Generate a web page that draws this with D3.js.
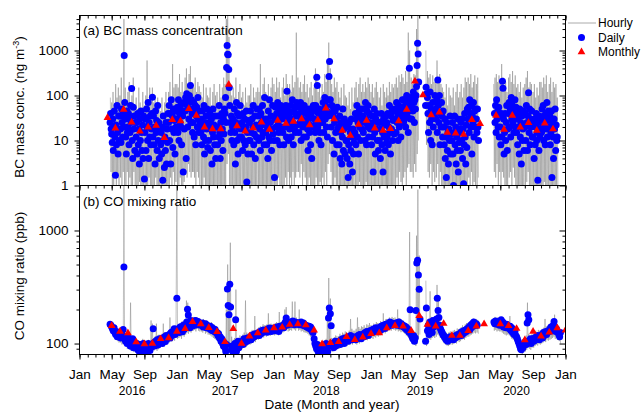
<!DOCTYPE html>
<html><head><meta charset="utf-8">
<script src="https://cdn.jsdelivr.net/npm/d3@7"></script>
<style>
body{margin:0;background:#fff}
svg text{font-family:"Liberation Sans",Arial,sans-serif}
</style></head><body>
<svg id="c" width="641" height="414"></svg>
<script>
const _ = null;

// ---------- BC daily (ng m-3): 15 values per month, days 1,3,5,...,29 ----------
const bcDaily2016 = [ // Apr..Dec 2016
_,_,_,_,_,_,_,_,_,_,_,_,25,40,18,
14,9,30,6,20,45,12,1.7,22,8,60,15,5,35,10,
35,18,9,50,25,12,40,20,775,70,30,12,5,45,15,
20,40,8,30,15,60,25,144,10,4,55,18,35,6,25,
12,25,5,40,8,18,3,30,10,45,15,6,22,4,35,
1.4,15,30,6,50,20,10,70,4,25,12,35,8,18,40,
92,12,35,8,20,3,45,15,28,6,60,10,25,4,18,
8,15,5,20,1.3,35,10,2.5,12,6,25,3,18,9,40,
25,60,10,40,3,80,18,35,7,50,15,28,5,45,20];
const bcDaily2017 = [
30,55,15,80,10,40,25,60,20,8,45,35,2,70,18,
45,90,4,110,60,20,70,30,100,50,167,25,80,40,15,
50,25,70,12,40,60,8,35,55,20,90,30,15,45,25,
15,30,8,45,20,12,60,5,25,10,35,18,50,7,22,
10,25,40,6,18,30,3,15,50,12,22,8,35,4,20,
20,8,35,12,60,15,4,25,10,40,18,6,30,14,50,
40,90,25,420,1300,830,800,380,150,60,25,15,35,10,20,
30,8,50,15,3,25,70,10,40,5,20,35,12,60,18,
12,25,6,40,10,18,30,8,20,45,1.2,15,5,28,10,
25,10,45,15,5,30,20,60,8,14,35,4,22,12,50,
20,35,10,50,18,6,40,25,12,60,15,30,8,90,22,
15,30,8,20,4,45,12,80,10,25,35,6,18,60,14];
const bcDaily2018 = [
10,1.5,30,55,20,40,10,70,25,15,45,8,35,60,20,
30,15,50,8,40,20,35,60,12,125,25,45,10,30,18,
40,20,60,12,30,80,25,8,45,18,55,15,35,70,22,
35,55,15,40,25,70,10,30,50,20,45,12,60,28,40,
25,12,40,18,6,30,50,15,22,8,35,4,45,20,60,
30,45,15,60,25,255,167,20,40,10,50,15,35,8,25,
40,25,70,15,50,90,30,60,20,45,12,35,80,265,570,
80,40,20,60,10,35,50,5,25,45,15,30,8,55,18,
20,8,35,4,15,25,3,12,50,6,18,30,5,22,10,
10,4,20,1.5,8,25,3,15,6,30,12,2,18,5,9,
15,40,8,30,60,12,25,5,45,20,35,10,50,18,28,
35,15,50,25,10,70,30,8,45,20,60,12,40,25,18];
const bcDaily2019 = [
20,8,35,12,2,25,50,15,5,30,18,40,10,25,6,
10,25,4,18,40,8,15,2,30,12,22,6,35,14,9,
25,12,40,8,20,60,15,5,35,18,50,10,28,45,14,
30,50,15,70,25,40,10,60,20,45,35,12,55,25,80,
40,25,80,30,60,20,50,100,35,70,15,45,405,90,30,
60,30,90,45,120,70,25,80,50,100,158,463,1450,840,200,
_,_,_,_,_,_,_,_,_,_,_,_,60,153,109,
90,40,15,60,25,120,10,50,30,8,70,20,45,35,100,
50,30,80,15,222,60,25,100,8,40,20,70,35,12,45,
20,8,30,4,12,1.5,25,6,15,3,18,10,35,5,14,
10,25,5,1,15,35,8,20,3,12,6,30,2,18,9,
15,6,25,10,30,4,18,1.1,8,40,12,3,22,7,50];
const bcDaily2020 = [
30,55,15,80,40,20,60,5,35,25,70,12,45,20,50,
30,15,50,20,10,_,_,_,_,_,_,_,_,_,_,
_,_,_,_,_,_,_,_,_,_,_,_,_,_,_,
_,_,_,_,40,25,60,15,80,30,45,20,55,12,35,
20,8,40,12,208,145,30,5,15,40,10,25,60,6,18,
40,70,20,50,12,90,30,60,25,45,15,35,80,20,55,
15,30,8,40,20,5,50,12,25,3,35,10,18,45,6,
20,40,10,60,25,6,35,115,15,50,8,30,20,45,12,
12,25,4,30,8,20,40,10,15,1.3,25,6,35,12,18,
30,15,50,20,60,10,35,25,8,40,18,70,12,28,45,
20,35,8,15,45,1.5,25,12,4,30,18,50,6,22,10,
12,_,_,_,_,_,_,_,_,_,_,_,_,_,_];

// ---------- BC hourly extremes: 6 slots per month (days 1,6,11,16,21,26) ----------
const bcHourlyHi2016 = [_,_,_,_,_,90, 70,120,60,180,90,150, 100,250,80,5000,150,70, 120,200,70,100,250,60, 90,50,150,70,45,120, 60,100,600,70,150,90, 150,70,100,50,90,60, 45,90,35,70,120,50, 120,200,90,500,150,180];
const bcHourlyLo2016 = [_,_,_,_,_,2, 1,0.8,2,0.5,1.5,1, 1.5,1,2,1,0.7,2, 0.8,1.5,1,0.6,2,1, 1,0.5,1.2,0.8,1,0.6, 0.5,1,0.8,1.5,0.7,1, 1,0.6,1.5,0.8,1,0.5, 0.5,0.7,0.4,0.6,1,0.5, 1,1.5,0.8,2,1,1.2];
const bcHourlyHi2017 = [180,150,300,120,200,100, 250,400,180,300,450,200, 180,150,250,120,200,160, 120,90,180,70,150,100, 90,150,60,120,180,100, 120,70,180,90,150,250, 180,5000,6000,2000,150,100, 150,90,250,70,120,180, 90,120,60,150,70,100, 100,180,70,150,90,120, 150,120,500,100,180,250, 120,90,180,70,150,250];
const bcHourlyLo2017 = [1,0.8,1.5,0.5,1,1.2, 2,1.5,3,2,1.5,2, 2,1.5,1,2,1.5,1, 1,0.8,1.5,0.6,1,0.7, 0.6,1,0.5,0.8,0.5,1, 0.8,0.6,1,0.5,1,0.7, 1,3,5,1,0.8,1, 0.6,0.8,0.5,1,0.7,0.5, 0.5,0.7,0.4,0.6,0.5,0.8, 0.8,0.5,1,0.6,0.7,0.5, 0.7,1,0.6,0.8,1,0.7, 0.5,0.7,0.6,0.4,0.8,0.5];
const bcHourlyHi2018 = [180,120,250,150,200,90, 150,250,100,300,180,120, 180,120,280,150,200,2500, 250,150,200,120,180,280, 120,180,90,150,200,100, 150,400,250,120,180,90, 180,120,300,200,500,1500, 400,180,120,250,150,200, 120,90,150,60,180,100, 90,60,120,50,150,70, 150,200,90,180,250,120, 180,120,200,150,250,180];
const bcHourlyLo2018 = [0.5,1,0.7,1.5,0.8,1, 1,0.7,1.5,1,2,0.8, 1.5,1,2,1,1.5,2, 2,1.5,3,1,2,1.5, 1,0.8,1.5,0.6,1,0.8, 1,1.5,0.8,1,1.2,0.7, 1.5,1,2,1,3,5, 2,1,0.8,1.5,0.7,1, 0.6,0.5,0.8,0.4,1,0.5, 0.4,0.5,0.6,0.4,0.7,0.5, 0.7,1,0.5,1.2,0.8,1, 1,0.6,1.2,0.8,1,0.7];
const bcHourlyHi2019 = [120,180,90,150,200,120, 90,150,60,180,120,90, 150,100,200,120,180,150, 180,250,150,280,200,300, 250,180,350,200,2500,1000, 250,180,300,280,3000,6000, _,_,_,_,_,1000, 350,250,300,180,280,200, 250,600,200,300,180,150, 120,90,180,60,150,100, 90,150,60,120,180,90, 120,180,90,150,250,200];
const bcHourlyLo2019 = [0.6,0.8,0.5,1,0.7,0.6, 0.5,0.7,0.4,0.8,0.5,0.6, 0.8,0.6,1,0.5,0.9,0.7, 1,1.5,0.8,2,1.2,1, 1.5,2,1,2.5,3,2, 2,1.5,3,2,5,10, _,_,_,_,_,8, 2,1.5,3,1,2,1.2, 1.5,3,1,2,1,0.8, 0.5,0.4,0.7,0.3,0.6,0.4, 0.4,0.5,0.3,0.6,0.4,0.5, 0.5,0.7,0.3,0.8,0.5,1];
const bcHourlyHi2020 = [250,180,300,150,200,280, 180,250,_,_,_,_, _,_,_,_,_,_, _,180,250,300,200,280, 180,500,250,150,200,120, 250,300,200,350,180,280, 150,180,120,200,90,150, 180,250,350,150,200,180, 120,180,90,150,100,200, 200,150,250,180,280,120, 180,250,120,200,150,180, 90,_,_,_,_,_];
const bcHourlyLo2020 = [1.5,1,2,0.8,1.2,1, 1,1.5,_,_,_,_, _,_,_,_,_,_, _,2,1.5,3,1,2, 1,2,1.5,0.8,1,0.7, 1.5,2,1,2.5,1.5,1, 0.7,1,0.5,0.8,0.6,0.7, 0.8,1.2,2,0.7,1,0.8, 0.5,0.6,0.4,0.7,0.5,0.8, 1,0.8,1.2,0.7,1,0.8, 0.8,1,0.5,0.9,0.6,0.8, 1,_,_,_,_,_];

// ---------- BC monthly means, Apr 2016 .. Nov 2020 (plotted mid-month) ----------
const bcMonthly = [
32,18.8,49,25.5,16,19.8,21.5,11.5,29,
27,51,36,19.8,18,18,175,21,16,19,25.5,17.5,
27.8,24,26.5,30,22,28.5,52,30,16.7,12.9,22.7,27.8,
18.8,16.7,18.2,27,49,208,102,37,42.6,15,14.5,13.6,
28.8,23.5,_,36,17.5,36,19.8,24.7,16.7,24.3,17.9];

// ---------- CO daily (ppb): 10 values per month, days 1,4,...,28 ----------
const coDaily2016 = [ // Apr..Dec 2016
_,_,_,_,_,_,_,_,148,145,
140,135,130,138,125,120,128,115,122,118,
120,112,125,118,133,476,110,105,115,100,
108,112,100,95,105,98,110,92,102,96,
95,100,88,92,85,98,90,83,95,100,
92,88,97,84,95,100,90,87,96,93,
98,135,102,95,105,100,108,97,103,110,
105,110,100,112,108,115,104,118,110,113,
115,120,112,125,118,128,122,135,120,126];
const coDaily2017 = [
252,128,135,125,140,130,138,127,145,133,
140,148,155,201,179,152,138,160,150,143,
155,150,158,145,160,152,148,157,150,146,
150,145,152,140,148,143,150,138,145,140,
140,135,142,132,138,130,135,128,133,125,
125,118,122,112,115,105,110,100,95,102,
92,85,98,304,217,180,334,210,88,95,
82,90,100,162,85,95,105,92,100,98,
100,105,98,110,102,108,104,112,106,110,
110,115,108,118,112,120,115,122,117,120,
120,125,118,128,122,130,125,132,127,130,
128,132,126,135,130,137,132,128,135,133];
const coDaily2018 = [
135,130,138,132,140,135,128,142,136,140,
140,145,138,150,155,168,145,152,148,150,
150,155,148,152,158,150,147,155,152,149,
150,153,147,150,155,148,145,152,146,143,
145,140,143,138,142,135,140,132,128,125,
110,100,95,90,98,85,92,88,95,83,
90,85,95,82,88,100,92,85,168,206,
183,144,95,100,92,98,105,95,100,103,
100,105,98,108,103,110,105,100,112,108,
108,112,105,115,110,118,112,108,115,113,
112,108,115,110,118,113,120,115,110,117,
118,122,115,125,120,128,123,118,126,130];
const coDaily2019 = [
130,125,133,128,135,130,138,132,127,135,
135,140,132,143,138,145,140,136,148,142,
145,150,142,148,155,147,152,145,150,148,
150,147,153,145,150,155,148,143,150,146,
145,140,143,136,140,132,135,128,125,199,
120,115,110,118,105,112,196,517,546,403,
302,165,_,_,_,_,_,_,105,206,
130,145,120,155,135,150,125,160,140,145,
150,165,252,196,170,145,135,130,125,120,
118,115,112,108,110,105,112,108,115,110,
110,113,108,115,112,118,114,120,116,118,
120,125,118,128,122,130,125,132,128,135];
const coDaily2020 = [
135,140,132,145,138,150,142,155,148,145,
150,145,_,_,_,_,_,_,_,_,
_,_,_,_,_,_,_,_,_,_,
_,_,155,150,158,152,148,155,150,145,
150,162,145,155,140,150,145,138,148,142,
140,135,142,130,138,125,132,120,128,118,
115,110,105,100,95,90,88,95,92,100,
100,105,98,152,180,162,105,110,100,108,
110,105,112,108,115,110,118,112,108,115,
115,120,112,125,118,122,128,120,125,130,
128,135,140,130,138,145,157,140,128,135,
130,125,120,115,125,_,_,_,_,_];

// ---------- CO hourly extremes: 6 slots per month ----------
const coHourlyHi2016 = [_,_,_,_,_,158, 152,145,140,138,132,128, 128,122,132,2600,120,112, 115,110,230,108,112,105, 103,108,100,105,100,110, 100,105,100,108,103,160, 150,112,115,150,118,120, 118,122,150,125,122,128, 128,170,126,140,132,145];
const coHourlyLo2016 = [_,_,_,_,_,135, 125,118,112,110,105,102, 102,98,100,98,95,90, 90,88,86,88,84,86, 82,80,83,78,81,84, 80,82,79,84,81,85, 88,87,90,86,89,92, 95,98,94,100,97,102, 102,108,104,110,106,112];
const coHourlyHi2017 = [2600,145,152,142,158,150, 160,240,230,200,170,165, 170,172,165,170,168,162, 162,158,165,155,160,155, 155,150,155,145,148,140, 138,130,132,122,118,112, 108,200,500,350,780,115, 108,112,300,110,112,118, 115,120,125,240,125,122, 125,128,132,130,175,132, 135,140,142,140,148,145, 145,148,185,146,150,148];
const coHourlyLo2017 = [110,112,115,110,118,115, 120,125,122,128,125,130, 130,132,128,135,130,128, 128,125,130,122,125,120, 120,118,115,112,110,108, 105,100,95,90,85,82, 80,78,90,85,78,80, 78,80,82,85,84,88, 90,92,95,93,96,98, 98,100,102,105,103,108, 108,110,112,115,113,118, 115,118,120,117,122,120];
const coHourlyHi2018 = [148,152,155,150,190,155, 158,162,200,210,165,165, 165,162,235,168,235,170, 165,200,162,165,160,162, 158,155,150,152,145,140, 122,112,108,105,104,100, 100,105,100,110,200,380, 250,112,110,114,118,116, 116,122,118,125,122,128, 126,124,130,165,135,130, 130,135,170,140,135,142, 140,145,138,148,145,152];
const coHourlyLo2018 = [118,120,122,118,125,122, 125,128,130,135,128,130, 132,130,135,133,130,135, 130,132,128,130,126,125, 125,122,118,115,112,108, 92,88,82,80,78,80, 78,80,78,82,85,90, 88,85,87,90,88,92, 90,92,95,93,96,95, 95,98,97,100,98,102, 100,98,102,100,105,103, 105,108,110,107,112,110];
const coHourlyHi2019 = [146,142,150,146,155,152, 152,158,154,185,158,165, 165,162,170,165,172,168, 170,165,200,168,165,162, 160,155,152,148,145,970, 135,130,128,125,900,2300, 600,_,_,_,_,360, 158,165,290,172,165,160, 172,330,250,175,155,145, 132,128,125,122,126,128, 126,130,132,128,136,134, 136,140,145,140,148,152];
const coHourlyLo2019 = [112,110,115,113,118,115, 118,120,122,125,123,128, 128,130,132,130,135,132, 130,132,128,130,126,128, 125,122,118,115,112,110, 105,100,98,95,100,110, 120,_,_,_,_,95, 105,110,108,112,115,112, 115,120,118,112,108,105, 100,98,96,95,97,98, 98,100,102,100,105,103, 105,108,110,108,112,115];
const coHourlyHi2020 = [150,155,158,162,166,162, 165,162,_,_,_,_, _,_,_,_,_,_, _,168,172,166,170,165, 168,172,165,160,155,158, 155,175,146,142,138,130, 125,120,112,108,105,110, 112,118,230,122,115,120, 122,126,130,126,132,130, 130,135,138,165,142,140, 145,150,155,160,180,156, 142,138,134,_,_,_];
const coHourlyLo2020 = [115,118,120,122,125,123, 125,122,_,_,_,_, _,_,_,_,_,_, _,130,132,128,130,128, 128,125,122,120,118,120, 118,115,110,108,105,100, 95,90,86,82,80,84, 85,88,95,90,88,92, 92,95,98,96,100,98, 100,102,105,103,108,106, 108,110,112,115,110,112, 108,105,100,_,_,_];

// ---------- CO monthly means, plotted at month boundaries May 2016 .. Jan 2021 ----------
const coMonthly = [
144,128,124,103,99.3,100,110,112,
128,135,156,149,138,127,103.5,135,100,116,124,131,
137,139,147,149,146,131,99.3,101.5,103.5,115,108,113.6,
122,124,137,144,142,130,176,147,142,150,117.5,117.5,
130,142,149,_,149,144,135.5,107.7,128,116,125.6,137,
131];

// ---------- axis text ----------
const yearLabels = ["2016","2017","2018","2019","2020"];
const yearLabelDates = ["2016-07-17","2017-07-01","2018-07-17","2019-07-04","2020-07-01"];

// ================= drawing =================
const L=79.5, R=565.5, T1=15.5, B1=185.5, B2=354.5;
const FONT = 13.5;
const svg = d3.select("#c");
const x = d3.scaleUtc().domain([new Date(Date.UTC(2016,0,1)), new Date(Date.UTC(2021,0,1))]).range([L,R]);
const yA = d3.scaleLog().domain([1,6000]).range([B1,T1]);
const yB = d3.scaleLog().domain([80,2500]).range([B2,B1]);

function mkDaily(list, per, step){
  const out=[];
  list.forEach(([arr,yr,m0])=>arr.forEach((v,i)=>{
    if(v==null) return;
    out.push({t:new Date(Date.UTC(yr, m0+Math.floor(i/per), 1+step*(i%per))), v});
  }));
  return out;
}
function mkHourly(list){
  const out=[];
  list.forEach(([hi,lo,yr,m0])=>hi.forEach((h,i)=>{
    const t=Date.UTC(yr, m0+Math.floor(i/6), 1+5*(i%6));
    if(h==null||lo[i]==null){ out.push({t:new Date(t), v:null}); return; }
    out.push({t:new Date(t), v:h});
    out.push({t:new Date(t+2.5*864e5), v:lo[i]});
  }));
  return out;
}
function mkMonthly(arr, yr, m0, day){
  return arr.map((v,i)=>({t:new Date(Date.UTC(yr, m0+i, day)), v})).filter(d=>d.v!=null);
}

const bcD = mkDaily([[bcDaily2016,2016,3],[bcDaily2017,2017,0],[bcDaily2018,2018,0],[bcDaily2019,2019,0],[bcDaily2020,2020,0]],15,2);
const coD = mkDaily([[coDaily2016,2016,3],[coDaily2017,2017,0],[coDaily2018,2018,0],[coDaily2019,2019,0],[coDaily2020,2020,0]],10,3);
const bcH = mkHourly([[bcHourlyHi2016,bcHourlyLo2016,2016,3],[bcHourlyHi2017,bcHourlyLo2017,2017,0],[bcHourlyHi2018,bcHourlyLo2018,2018,0],[bcHourlyHi2019,bcHourlyLo2019,2019,0],[bcHourlyHi2020,bcHourlyLo2020,2020,0]]);
const coH = mkHourly([[coHourlyHi2016,coHourlyLo2016,2016,3],[coHourlyHi2017,coHourlyLo2017,2017,0],[coHourlyHi2018,coHourlyLo2018,2018,0],[coHourlyHi2019,coHourlyLo2019,2019,0],[coHourlyHi2020,coHourlyLo2020,2020,0]]);
const bcM = mkMonthly(bcMonthly, 2016, 3, 15);
const coM = mkMonthly(coMonthly, 2016, 4, 1);

const defs = svg.append("defs");
defs.append("clipPath").attr("id","clipA").append("rect").attr("x",L).attr("y",T1).attr("width",R-L).attr("height",B1-T1);
defs.append("clipPath").attr("id","clipB").append("rect").attr("x",L).attr("y",B1).attr("width",R-L).attr("height",B2-B1);

const tri = d3.symbol().type(d3.symbolTriangle).size(26);
const DOT_R = 3.5;

function panel(clip, y, H, D, M){
  const g = svg.append("g").attr("clip-path",`url(#${clip})`);
  g.append("path").datum(H)
    .attr("d", d3.line().defined(d=>d.v!=null && d.v>0).x(d=>x(d.t)).y(d=>y(d.v)))
    .attr("fill","none").attr("stroke","#858585").attr("stroke-width",0.55).attr("stroke-opacity",0.9);
  g.append("g").selectAll("circle").data(D).join("circle")
    .attr("cx",d=>x(d.t)).attr("cy",d=>y(d.v)).attr("r",DOT_R).attr("fill","#0000ff");
  g.append("g").selectAll("path").data(M).join("path")
    .attr("transform",d=>`translate(${x(d.t)},${y(d.v)})`).attr("d",tri).attr("fill","#ff0000");
}
panel("clipA", yA, bcH, bcD, bcM);
panel("clipB", yB, coH, coD, coM);

// frames
[[T1,B1],[B1,B2]].forEach(([a,b])=>svg.append("rect").attr("x",L).attr("y",a).attr("width",R-L).attr("height",b-a)
  .attr("fill","none").attr("stroke","#000").attr("stroke-width",1));

function styleAxis(s){ s.select(".domain").remove(); s.attr("font-size",FONT).attr("font-family",'"Liberation Sans",Arial,sans-serif'); s.selectAll("line").attr("stroke","#000"); }

// y axes
function yAxes(y, majors, minors){
  svg.append("g").attr("transform",`translate(${L},0)`).call(d3.axisLeft(y).tickValues(majors).tickFormat(d3.format("d")).tickSize(5).tickPadding(6)).call(styleAxis);
  svg.append("g").attr("transform",`translate(${L},0)`).call(d3.axisLeft(y).tickValues(minors).tickFormat("").tickSize(3)).call(styleAxis);
  svg.append("g").attr("transform",`translate(${R},0)`).call(d3.axisRight(y).tickValues(majors).tickFormat("").tickSize(-6)).call(styleAxis);
  svg.append("g").attr("transform",`translate(${R},0)`).call(d3.axisRight(y).tickValues(minors).tickFormat("").tickSize(-3)).call(styleAxis);
}
yAxes(yA,[1,10,100,1000],[2,3,4,5,6,7,8,9,20,30,40,50,60,70,80,90,200,300,400,500,600,700,800,900,2000,3000,4000,5000]);
yAxes(yB,[100,1000],[90,200,300,400,500,600,700,800,900,2000]);

// x axes
const t0=new Date(Date.UTC(2016,0,1)), t1=new Date(Date.UTC(2021,0,2));
const xMajors = d3.utcMonth.every(4).range(t0,t1);
const xMinors = d3.utcMonth.range(t0,t1);
[T1,B1].forEach(yy=>{
  svg.append("g").attr("transform",`translate(0,${yy})`).call(d3.axisBottom(x).tickValues(xMajors).tickFormat("").tickSize(5)).call(styleAxis);
  svg.append("g").attr("transform",`translate(0,${yy})`).call(d3.axisBottom(x).tickValues(xMinors).tickFormat("").tickSize(3)).call(styleAxis);
});
svg.append("g").attr("transform",`translate(0,${B2})`).call(d3.axisBottom(x).tickValues(xMajors).tickFormat(d3.utcFormat("%b")).tickSize(5).tickPadding(9.5)).call(styleAxis);
svg.append("g").attr("transform",`translate(0,${B2})`).call(d3.axisBottom(x).tickValues(xMinors).tickFormat("").tickSize(3)).call(styleAxis);

const parse = d3.utcParse("%Y-%m-%d");
svg.append("g").selectAll("text").data(yearLabels).join("text")
  .attr("x",(d,i)=>x(parse(yearLabelDates[i]))).attr("y",395).attr("text-anchor","middle").attr("font-size",12).text(d=>d);

svg.append("text").attr("x",332).attr("y",409).attr("text-anchor","middle").attr("font-size",FONT).text("Date (Month and year)");

// titles
svg.append("text").attr("x",83).attr("y",35).attr("font-size",FONT).text("(a) BC mass concentration");
svg.append("text").attr("x",83).attr("y",206).attr("font-size",FONT).text("(b) CO mixing ratio");

const ta = svg.append("text").attr("transform","translate(24,107) rotate(-90)").attr("text-anchor","middle").attr("font-size",FONT);
ta.append("tspan").text("BC mass conc. (ng m");
ta.append("tspan").attr("font-size",9).attr("dy",-5).text("-3");
ta.append("tspan").attr("dy",5).text(")");
svg.append("text").attr("transform","translate(24,276) rotate(-90)").attr("text-anchor","middle").attr("font-size",FONT).text("CO mixing ratio (ppb)");

// legend
const lg = svg.append("g");
lg.append("line").attr("x1",568).attr("x2",596).attr("y1",23).attr("y2",23).attr("stroke","#aaa").attr("stroke-width",1);
lg.append("circle").attr("cx",581.5).attr("cy",37.5).attr("r",DOT_R).attr("fill","#0000ff");
lg.append("path").attr("transform","translate(581.5,52)").attr("d",tri).attr("fill","#ff0000");
[["Hourly",27.3],["Daily",41.8],["Monthly",56.3]].forEach(([t,yy])=>lg.append("text").attr("x",598).attr("y",yy).attr("font-size",12).text(t));
</script>
</body></html>
